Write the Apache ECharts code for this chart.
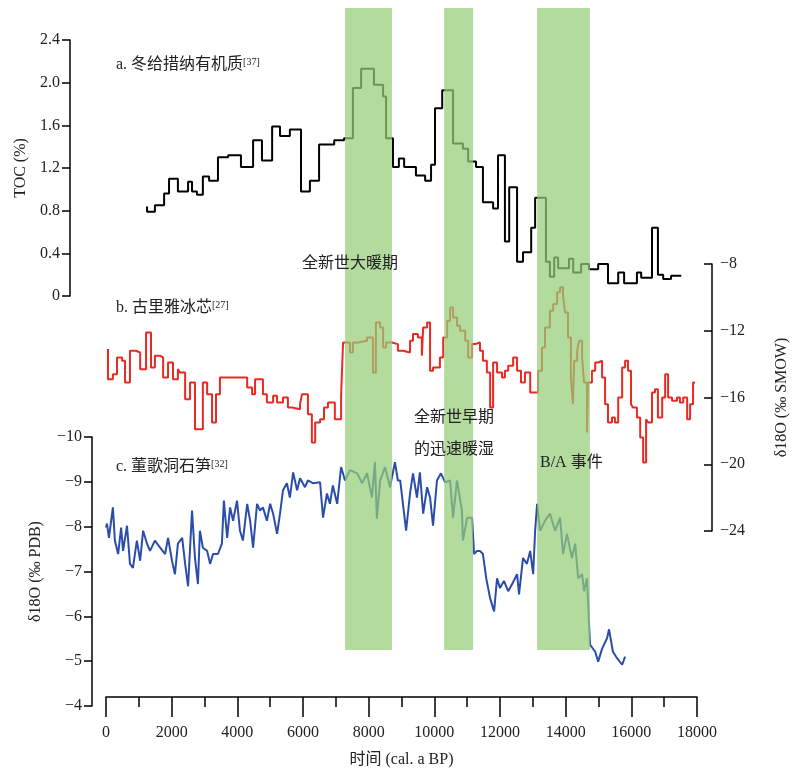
<!DOCTYPE html>
<html lang="zh">
<head>
<meta charset="UTF-8">
<title>TOC / 冰芯 / 石笋</title>
<script src="https://cdn.jsdelivr.net/npm/echarts@6/dist/echarts.min.js"></script>
</head>
<body style="margin:0">
<div id="main" style="width:802px;height:775px;"></div>
<script>
// 暖期阴影 (年)
var warmPeriods = [[7280, 8710], [10300, 11180], [13130, 14740]];

// a. 冬给措纳 TOC (%), 阶梯 [年, 值]
var tocData = [[1250,0.84],[1490,0.79],[1770,0.85],[1920,0.96],[2190,1.10],[2500,0.98],[2620,1.07],[2770,0.98],
  [2950,0.95],[3140,1.12],[3410,1.08],[3720,1.30],[4110,1.32],[4480,1.21],[4750,1.46],[5060,1.27],[5300,1.59],
  [5600,1.50],[5940,1.56],[6210,0.98],[6490,1.08],[6950,1.42],[7250,1.46],[7520,1.48],[7770,1.95],[8160,2.13],
  [8440,1.98],[8530,1.87],[8740,1.48],[8920,1.21],[9080,1.29],[9440,1.21],[9720,1.13],[9900,1.08],[10020,1.23],
  [10240,1.76],[10570,1.93],[10870,1.43],[11030,1.38],[11270,1.26],[11480,1.21],[11790,0.88],[11940,0.82],
  [12150,1.32],[12280,0.51],[12520,1.02],[12700,0.32],[12950,0.41],[13070,0.64],[13400,0.92],[13520,0.32],
  [13650,0.18],[13770,0.36],[14100,0.26],[14230,0.35],[14470,0.22],[14710,0.30],[14990,0.25],[15290,0.30],
  [15600,0.12],[15780,0.22],[16170,0.12],[16300,0.22],[16630,0.17],[16810,0.64],[16970,0.20],[17210,0.16],
  [17520,0.19]];

// b. 古里雅冰芯 δ18O (‰ SMOW)
var iceData = [[60,-13.1],[210,-14.9],[335,-14.6],[490,-13.6],[580,-13.8],[730,-15.1],[910,-13.2],[1040,-13.3],
  [1220,-14.3],[1370,-12.1],[1490,-14.2],[1650,-13.5],[1740,-13.6],[1890,-14.8],[2040,-13.9],[2190,-14.9],
  [2250,-14.3],[2410,-14.5],[2560,-16.1],[2710,-15.1],[2950,-17.9],[3080,-15.1],[3230,-15.8],[3350,-17.5],
  [3470,-15.8],[3720,-14.8],[4300,-14.8],[4450,-15.4],[4540,-15.8],[4780,-14.9],[4900,-15.8],[5090,-16.3],
  [5210,-15.9],[5390,-16.3],[5540,-16.0],[5670,-16.6],[5910,-16.7],[5970,-16.4],[6150,-15.8],[6270,-17.0],
  [6370,-18.7],[6520,-17.5],[6640,-17.3],[6760,-16.6],[6970,-16.3],[7160,-17.3],[7220,-15.9],[7430,-12.7],
  [7520,-13.3],[7680,-12.7],[7950,-12.6],[8130,-12.4],[8220,-14.5],[8350,-11.5],[8440,-11.8],[8530,-13.0],
  [8710,-12.7],[8890,-12.8],[9050,-13.2],[9260,-13.3],[9350,-12.6],[9500,-12.2],[9620,-12.4],[9660,-13.5],
  [9780,-11.8],[9870,-11.5],[9960,-14.4],[10170,-14.2],[10270,-13.6],[10390,-12.4],[10480,-11.4],[10570,-10.6],
  [10690,-11.2],[10780,-11.7],[10940,-12.0],[11030,-12.6],[11150,-13.6],[11240,-12.8],[11390,-12.7],[11480,-13.2],
  [11600,-13.8],[11700,-14.5],[11790,-16.6],[11910,-13.9],[12060,-14.5],[12150,-14.8],[12250,-14.4],[12400,-14.1],
  [12520,-13.6],[12640,-14.4],[12760,-15.1],[12920,-14.5],[13160,-15.7],[13280,-14.4],[13370,-13.0],[13520,-11.8],
  [13620,-10.8],[13740,-10.4],[13830,-9.7],[13920,-9.4],[13980,-9.9],[14070,-10.9],[14160,-12.4],[14220,-14.8],
  [14260,-16.4],[14350,-13.8],[14410,-13.2],[14500,-12.6],[14560,-13.6],[14650,-15.1],[14680,-18.1],[14800,-15.1],
  [14900,-14.4],[14990,-13.9],[15110,-13.8],[15200,-14.8],[15290,-16.4],[15410,-17.5],[15500,-17.2],[15600,-17.5],
  [15720,-16.0],[15810,-14.2],[15900,-13.8],[15990,-14.4],[16050,-16.4],[16170,-16.6],[16270,-17.2],[16360,-18.4],
  [16450,-19.9],[16510,-17.3],[16630,-17.5],[16720,-15.7],[16810,-15.5],[16940,-17.2],[17030,-16.0],[17120,-14.6],
  [17240,-16.0],[17390,-16.2],[17480,-16.0],[17580,-16.3],[17700,-16.0],[17790,-17.3],[17880,-16.4],[17940,-15.1]];

// c. 董歌洞石笋 δ18O (‰ PDB)
var caveData = [[0,-7.98],[30,-8.07],[90,-7.75],[210,-8.43],[270,-7.69],[370,-7.39],[460,-7.98],[520,-7.46],
  [640,-8.02],[730,-7.17],[820,-7.08],[940,-7.69],[1040,-7.24],[1130,-7.91],[1250,-7.62],[1340,-7.46],[1490,-7.69],
  [1650,-7.53],[1800,-7.39],[1890,-7.75],[2010,-7.24],[2100,-6.94],[2190,-7.62],[2320,-7.75],[2410,-7.17],
  [2500,-6.67],[2620,-8.36],[2710,-7.30],[2800,-6.72],[2860,-7.91],[2950,-7.53],[3080,-7.46],[3170,-7.17],
  [3260,-7.39],[3410,-7.39],[3530,-7.62],[3590,-8.58],[3690,-7.75],[3780,-8.43],[3870,-8.13],[3990,-8.58],
  [4080,-7.91],[4170,-7.69],[4300,-8.51],[4390,-8.13],[4480,-7.53],[4600,-8.51],[4690,-8.36],[4780,-8.43],
  [4900,-8.13],[5000,-8.51],[5090,-8.29],[5210,-7.84],[5300,-8.29],[5390,-8.81],[5510,-8.97],[5600,-8.65],
  [5700,-9.21],[5820,-8.81],[5910,-9.08],[6060,-8.88],[6150,-9.03],[6300,-8.97],[6520,-8.99],[6610,-8.20],
  [6730,-8.74],[6820,-8.51],[6910,-8.92],[7040,-8.51],[7160,-9.33],[7280,-9.03],[7430,-9.26],[7650,-9.19],
  [7800,-8.97],[7950,-9.19],[8100,-8.65],[8190,-9.44],[8250,-8.18],[8350,-9.03],[8500,-9.33],[8650,-8.88],
  [8800,-9.44],[8890,-9.03],[8960,-9.03],[9140,-7.91],[9260,-8.74],[9350,-9.19],[9470,-8.65],[9560,-9.21],
  [9660,-8.29],[9780,-8.88],[9870,-8.65],[9960,-8.02],[10080,-9.03],[10200,-9.19],[10330,-8.99],[10480,-9.03],
  [10570,-8.20],[10690,-9.03],[10840,-8.36],[10870,-7.69],[11000,-8.20],[11150,-8.20],[11210,-7.39],[11300,-7.46],
  [11390,-7.46],[11480,-7.39],[11580,-6.85],[11700,-6.40],[11820,-6.11],[11910,-6.85],[12000,-6.63],[12120,-6.79],
  [12250,-6.56],[12370,-6.72],[12520,-6.94],[12580,-6.49],[12700,-7.30],[12820,-7.17],[12920,-7.46],[13010,-6.94],
  [13070,-7.91],[13130,-8.51],[13220,-7.91],[13370,-8.13],[13520,-8.29],[13680,-7.91],[13830,-8.20],[13920,-7.39],
  [14040,-7.84],[14190,-7.30],[14290,-7.62],[14380,-6.85],[14500,-6.94],[14560,-6.56],[14650,-6.85],[14740,-5.37],
  [14900,-5.21],[14990,-4.99],[15110,-5.28],[15260,-5.51],[15320,-5.71],[15440,-5.21],[15570,-5.06],[15720,-4.92],
  [15810,-5.10]];

var FONT = '"Liberation Serif", "Noto Sans CJK SC", serif';
var minus = function (v) { return String(v).replace('-', '\u2212'); };

var main = document.getElementById('main');
var myChart = echarts.init(main);

var hiddenX = function (g) {
    return { gridIndex: g, type: 'value', min: 0, max: 18000, show: false };
};
var axisLine = { show: true, onZero: false, lineStyle: { color: '#000', width: 1.5 } };

var option = {
    animation: false,
    textStyle: { fontFamily: FONT },
    grid: [
        { left: 106, width: 591, top: 40, height: 256 },
        { left: 106, width: 591, top: 264, height: 267 },
        { left: 106, width: 591, top: 437, height: 269 },
        { left: 106, width: 591, top: 8, height: 642 }
    ],
    xAxis: [
        hiddenX(0), hiddenX(1),
        {
            gridIndex: 2, type: 'value', min: 0, max: 18000, interval: 2000, offset: -9,
            axisLine: axisLine,
            axisTick: { length: 20, lineStyle: { color: '#000', width: 1.5 } },
            minorTick: { show: true, splitNumber: 2, length: 10, lineStyle: { color: '#000', width: 1.5 } },
            splitLine: { show: false },
            axisLabel: { color: '#222', fontSize: 16, margin: 28, fontFamily: FONT,
                formatter: function (v) { return String(v); } },
            name: '时间 (cal. a BP)', nameLocation: 'middle', nameGap: 55,
            nameTextStyle: { color: '#222', fontSize: 16, fontFamily: FONT }
        },
        hiddenX(3)
    ],
    yAxis: [
        {
            gridIndex: 0, type: 'value', min: 0, max: 2.4, interval: 0.4, position: 'left', offset: 36,
            axisLine: axisLine,
            axisTick: { show: true, length: 8, lineStyle: { color: '#000', width: 1.5 } },
            splitLine: { show: false },
            axisLabel: { color: '#222', fontSize: 16, margin: 10,
                formatter: function (v) { return v === 0 ? '0' : v.toFixed(1); } },
            name: 'TOC (%)', nameLocation: 'middle', nameGap: 38, nameRotate: 90,
            nameTextStyle: { color: '#222', fontSize: 16 }
        },
        {
            gridIndex: 1, type: 'value', min: -24, max: -8, interval: 4, position: 'right', offset: 15,
            axisLine: axisLine,
            axisTick: { show: true, inside: true, length: 8, lineStyle: { color: '#000', width: 1.5 } },
            splitLine: { show: false },
            axisLabel: { color: '#222', fontSize: 16, margin: 8, formatter: minus },
            name: 'δ18O (‰ SMOW)', nameLocation: 'middle', nameGap: 62, nameRotate: 90,
            nameTextStyle: { color: '#222', fontSize: 16 }
        },
        {
            gridIndex: 2, type: 'value', min: -10, max: -4, interval: 1, inverse: true, position: 'left', offset: 14,
            axisLine: axisLine,
            axisTick: { show: true, length: 8, lineStyle: { color: '#000', width: 1.5 } },
            splitLine: { show: false },
            axisLabel: { color: '#222', fontSize: 16, margin: 10, formatter: minus },
            name: 'δ18O (‰ PDB)', nameLocation: 'middle', nameGap: 48, nameRotate: 90,
            nameTextStyle: { color: '#222', fontSize: 16 }
        },
        { gridIndex: 3, type: 'value', min: 0, max: 1, show: false }
    ],
    series: [
        {
            type: 'line', xAxisIndex: 0, yAxisIndex: 0, step: 'start', symbol: 'none', z: 2,
            lineStyle: { color: '#000', width: 2 }, data: tocData
        },
        {
            type: 'line', xAxisIndex: 1, yAxisIndex: 1, step: 'start', symbol: 'none', z: 2,
            lineStyle: { color: '#ea2a22', width: 2 }, data: iceData
        },
        {
            type: 'line', xAxisIndex: 2, yAxisIndex: 2, symbol: 'none', z: 2,
            lineStyle: { color: '#2a4ea8', width: 2 }, data: caveData
        },
        {
            // 暖期色带画在曲线之上，半透明
            type: 'custom', xAxisIndex: 3, yAxisIndex: 3, z: 10, silent: true,
            data: warmPeriods,
            renderItem: function (params, api) {
                var p0 = api.coord([api.value(0), 1]);
                var p1 = api.coord([api.value(1), 0]);
                return {
                    type: 'rect',
                    shape: { x: p0[0], y: p0[1], width: p1[0] - p0[0], height: p1[1] - p0[1] },
                    style: { fill: 'rgba(150,205,120,0.72)' }
                };
            }
        }
    ],
    graphic: [
        { type: 'text', left: 116, top: 57, z: 20, style: { text: '{m|a. 冬给措纳有机质}{s|[37]}',
            rich: { m: { fontSize: 16, fill: '#222', fontFamily: FONT }, s: { fontSize: 10, fill: '#222', verticalAlign: 'top', fontFamily: FONT } } } },
        { type: 'text', left: 116, top: 300, z: 20, style: { text: '{m|b. 古里雅冰芯}{s|[27]}',
            rich: { m: { fontSize: 16, fill: '#222', fontFamily: FONT }, s: { fontSize: 10, fill: '#222', verticalAlign: 'top', fontFamily: FONT } } } },
        { type: 'text', left: 116, top: 459, z: 20, style: { text: '{m|c. 董歌洞石笋}{s|[32]}',
            rich: { m: { fontSize: 16, fill: '#222', fontFamily: FONT }, s: { fontSize: 10, fill: '#222', verticalAlign: 'top', fontFamily: FONT } } } },
        { type: 'text', left: 302, top: 256, z: 20, style: { text: '全新世大暖期', fontSize: 16, fill: '#222', fontFamily: FONT } },
        { type: 'text', left: 414, top: 410, z: 20, style: { text: '全新世早期', fontSize: 16, fill: '#222', fontFamily: FONT } },
        { type: 'text', left: 414, top: 442, z: 20, style: { text: '的迅速暖湿', fontSize: 16, fill: '#222', fontFamily: FONT } },
        { type: 'text', left: 540, top: 455, z: 20, style: { text: 'B/A 事件', fontSize: 16, fill: '#222', fontFamily: FONT } }
    ]
};
myChart.setOption(option);
</script>
</body>
</html>
